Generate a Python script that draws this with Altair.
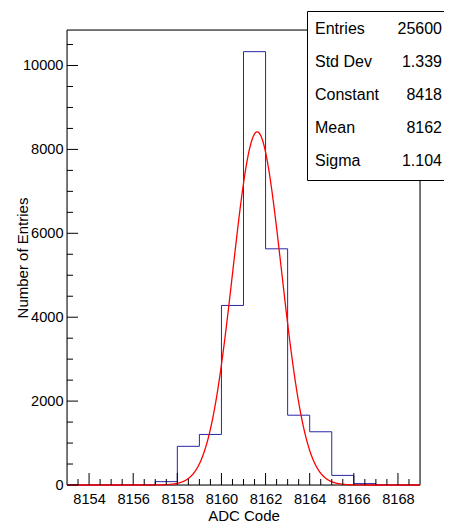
import altair as alt
import numpy as np
import pandas as pd

# ---- data ----
bin_low_edges = list(range(8153, 8169))
bin_counts = [0, 0, 0, 0, 80, 922, 1205, 4280, 10330, 5630, 1664, 1269, 229, 33, 0, 0]
last_edge = 8169

fit_constant = 8418
fit_mean = 8161.62
fit_sigma = 1.104

stat_labels = ["Entries", "Std Dev", "Constant", "Mean", "Sigma"]
stat_values = ["25600", "1.339", "8418", "8162", "1.104"]

x_label_values = [8154, 8156, 8158, 8160, 8162, 8164, 8166, 8168]
y_label_values = [0, 2000, 4000, 6000, 8000, 10000]

# ---- layout ----
W, H = 353, 455
PAD = {"left": 59, "top": 22, "right": 24, "bottom": 39}
FONT = "Liberation Sans"
x_dom = [8153, 8169]
y_max = 1.05 * max(bin_counts)

hist_df = pd.DataFrame({"x": bin_low_edges + [last_edge], "n": bin_counts + [0]})
fx = np.linspace(x_dom[0], x_dom[1], 1601)
fit_df = pd.DataFrame({
    "x": fx,
    "f": fit_constant * np.exp(-0.5 * ((fx - fit_mean) / fit_sigma) ** 2),
})

x_minor = [v for v in np.arange(8153.5, 8169, 0.5) if v not in x_label_values]
y_minor = [v for v in range(500, 11000, 500) if v not in y_label_values]

xs = alt.Scale(domain=x_dom, nice=False, zero=False)
ys = alt.Scale(domain=[0, y_max], nice=False)
one = pd.DataFrame({"a": [0]})

frame = alt.Chart(one).mark_rect(fillOpacity=0, stroke="black", strokeWidth=1).encode(
    x=alt.value(0), x2=alt.value(W), y=alt.value(0), y2=alt.value(H)
)

hist = alt.Chart(hist_df).mark_line(
    interpolate="step-after", color="#2626a6", strokeWidth=1
).encode(
    x=alt.X("x:Q", scale=xs, axis=alt.Axis(
        values=x_label_values, format="d", ticks=False, domain=False,
        grid=False, labelFontSize=14.6, labelPadding=6, labelFont=FONT,
        labelColor="black", title="ADC Code", titleFont=FONT, titleFontSize=15,
        titleFontWeight="normal", titleColor="black", titleBaseline="alphabetic",
        titleY=35)),
    y=alt.Y("n:Q", scale=ys, axis=alt.Axis(
        values=y_label_values, format="d", ticks=False, domain=False,
        grid=False, labelFontSize=14.6, labelPadding=4, labelFont=FONT,
        labelColor="black", title="Number of Entries", titleFont=FONT,
        titleFontSize=15, titleFontWeight="normal", titleColor="black",
        titleAngle=270, titleBaseline="alphabetic", titleX=-40, titleY=H / 2)),
)

fit = alt.Chart(fit_df).mark_line(color="#ff0000", strokeWidth=1.3).encode(
    x=alt.X("x:Q", scale=xs), y=alt.Y("f:Q", scale=ys),
)

def xticks(vals, length):
    return alt.Chart(pd.DataFrame({"x": vals})).mark_rule(color="black", strokeWidth=1).encode(
        x=alt.X("x:Q", scale=xs), y=alt.value(H), y2=alt.value(H - length)
    )

def yticks(vals, length):
    return alt.Chart(pd.DataFrame({"n": vals})).mark_rule(color="black", strokeWidth=1).encode(
        y=alt.Y("n:Q", scale=ys), x=alt.value(0), x2=alt.value(length)
    )

box = alt.Chart(one).mark_rect(fill="white", stroke="black", strokeWidth=1).encode(
    x=alt.value(240.5), x2=alt.value(400), y=alt.value(-18.5), y2=alt.value(150.5)
)

stat_layers = []
for i, (lab, val) in enumerate(zip(stat_labels, stat_values)):
    yy = 4 + 33 * i
    stat_layers.append(alt.Chart(one).mark_text(
        align="left", baseline="alphabetic", fontSize=16, font=FONT, color="black", text=lab
    ).encode(x=alt.value(248), y=alt.value(yy)))
    stat_layers.append(alt.Chart(one).mark_text(
        align="right", baseline="alphabetic", fontSize=16, font=FONT, color="black", text=val
    ).encode(x=alt.value(375), y=alt.value(yy)))

chart = alt.layer(
    frame, hist, fit,
    xticks(x_label_values, 12), xticks(x_minor, 6),
    yticks(y_label_values, 11), yticks(y_minor, 6),
    box, *stat_layers,
).properties(
    width=W, height=H,
    padding=PAD,
    autosize=alt.AutoSizeParams(type="none"),
).configure_view(stroke=None).configure(background="white")

chart.save("out.html", embed_options={"renderer": "svg", "actions": False})
